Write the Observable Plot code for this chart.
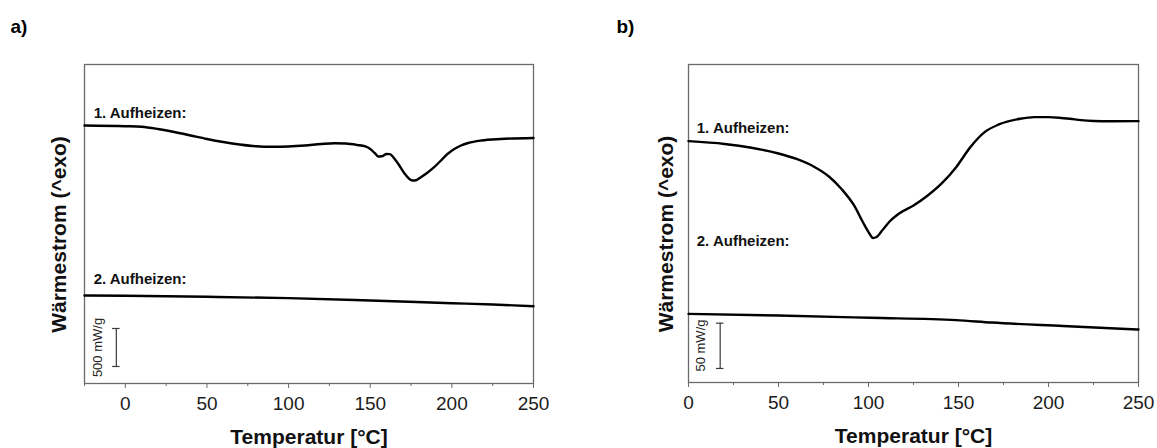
<!DOCTYPE html>
<html>
<head>
<meta charset="utf-8">
<script src="https://cdn.jsdelivr.net/npm/d3@7"></script>
<script src="https://cdn.jsdelivr.net/npm/@observablehq/plot@0.6"></script>
<style>
  body { margin: 0; background: #fff; }
  #fig { position: relative; width: 1157px; height: 448px; overflow: hidden; background: #fff; }
  #fig svg { position: absolute; top: 0; }
</style>
</head>
<body>
<div id="fig"></div>
<script>
// ---- Panel a: DSC heating curves (heat flow in mW/g, curves offset vertically) ----
const tempA1 = [-25, 0, 10, 20, 30, 40, 50, 60, 70, 80, 90, 100, 110, 120, 128, 135, 142, 147, 150, 153, 155, 157, 160, 162, 164.5, 167, 171, 174, 176, 178, 181, 185, 189, 193, 197.5, 201.5, 205.6, 210, 218, 230, 250];
const flowA1 = [3395, 3386, 3378, 3349, 3310, 3264, 3218, 3178, 3145, 3122, 3115, 3119, 3132, 3152, 3162, 3158, 3139, 3119, 3086, 3027, 2987, 2990, 3020, 3019, 2968, 2895, 2764, 2691, 2671, 2675, 2715, 2774, 2843, 2928, 3023, 3086, 3132, 3165, 3198, 3218, 3231];
const tempA2 = [-25, 0, 50, 100, 150, 200, 225, 250];
const flowA2 = [1158, 1154, 1141, 1123, 1092, 1057, 1040, 1017];

// ---- Panel b ----
const tempB1 = [0, 20, 35, 50, 60, 70, 78, 85, 92, 97, 100.5, 102.5, 104.5, 108, 112, 117, 125, 132.9, 140.8, 148.7, 156.6, 164.5, 172.4, 184.2, 192.2, 200, 206, 212, 218, 225, 235, 250];
const flowB1 = [266.4, 263.3, 259.1, 252.8, 246.7, 237.9, 227.4, 213.6, 195.4, 176.6, 164.5, 159.5, 160.6, 168.9, 178.3, 186.6, 195.4, 206.4, 220.0, 237.7, 259.8, 276.3, 284.8, 291.1, 292.9, 292.9, 292.3, 291.1, 289.6, 288.7, 288.4, 288.5];
const tempB2 = [0, 50, 101, 148.7, 168.5, 208, 250];
const flowB2 = [75.8, 73.9, 71.4, 68.9, 66.2, 62.4, 58.5];

// ---- Shared text ----
const seriesLabels = ["1. Aufheizen:", "2. Aufheizen:"];
const xTitle = "Temperatur [°C]";
const yTitle = "Wärmestrom (^exo)";
const majorTicksA = [0, 50, 100, 150, 200, 250];
const minorTicksA = [-25, 25, 75, 125, 175, 225];
const majorTicksB = [0, 50, 100, 150, 200, 250];
const minorTicksB = [25, 75, 125, 175, 225];
const scaleLabelA = "500 mW/g";
const scaleLabelB = "50 mW/g";

const FONT = "'Liberation Sans', Arial, Helvetica, sans-serif";
const zip = (xs, ys) => xs.map((x, i) => ({x, y: ys[i]}));

function panel(cfg) {
  const barHalf = cfg.capHalf;
  return Plot.plot({
    width: cfg.width,
    height: 448,
    marginLeft: cfg.marginLeft,
    marginRight: cfg.marginRight,
    marginTop: 64,
    marginBottom: cfg.marginBottom,
    style: {fontFamily: FONT, fontSize: "19px", background: "transparent", color: "#1c1c1c", overflow: "visible"},
    x: {domain: cfg.xDomain, axis: null},
    y: {domain: [0, cfg.yMax], axis: null},
    marks: [
      Plot.frame({stroke: "#6a6a6a", strokeWidth: 1.3}),
      Plot.axisX(cfg.minor, {anchor: "bottom", label: null, tickSize: 3, tickFormat: () => "", stroke: "#6a6a6a"}),
      Plot.axisX(cfg.major, {anchor: "bottom", label: null, tickSize: 5, tickPadding: 8, stroke: "#6a6a6a", fill: "#1c1c1c", fontSize: 19, tickFormat: d => String(d)}),
      Plot.line(zip(cfg.t1, cfg.f1), {x: "x", y: "y", stroke: "#000", strokeWidth: 2.4, curve: "monotone-x"}),
      Plot.line(zip(cfg.t2, cfg.f2), {x: "x", y: "y", stroke: "#000", strokeWidth: 2.4, curve: "monotone-x"}),
      Plot.text([seriesLabels[0]], {x: cfg.labelX, y: cfg.label1Y, text: d => d, textAnchor: "start", fontWeight: "bold", fontSize: 15, fill: "#111"}),
      Plot.text([seriesLabels[1]], {x: cfg.labelX, y: cfg.label2Y, text: d => d, textAnchor: "start", fontWeight: "bold", fontSize: 15, fill: "#111"}),
      // scale bar
      Plot.ruleX([cfg.bar], {x: d => d.x, y1: d => d.from, y2: d => d.to, stroke: "#3a3a3a", strokeWidth: 1.2}),
      Plot.ruleY([cfg.bar.from, cfg.bar.to], {y: d => d, x1: cfg.bar.x - barHalf, x2: cfg.bar.x + barHalf, stroke: "#3a3a3a", strokeWidth: 1.2}),
      Plot.text([cfg.bar.label], {x: cfg.bar.labelX, y: cfg.bar.labelY, text: d => d, rotate: -90, textAnchor: "middle", fontSize: 13, fill: "#222"}),
      // titles
      Plot.text([xTitle], {frameAnchor: "bottom", dy: 54, text: d => d, textAnchor: "middle", lineAnchor: "middle", fontWeight: "bold", fontSize: 21, fill: "#111"}),
      Plot.text([yTitle], {frameAnchor: "left", rotate: -90, dx: cfg.yTitleDx, dy: 10.5, text: d => d, textAnchor: "middle", lineAnchor: "middle", fontWeight: "bold", fontSize: 21, fill: "#111"}),
      Plot.text([cfg.tag], {frameAnchor: "top-left", dx: cfg.tagDx, dy: -38, text: d => d, textAnchor: "start", lineAnchor: "middle", fontWeight: "bold", fontSize: 19, fill: "#000"})
    ]
  });
}

const fig = document.getElementById("fig");

const a = panel({
  width: 600, marginLeft: 84, marginRight: 67, marginBottom: 65,
  xDomain: [-25, 250], yMax: 4198,
  major: majorTicksA, minor: minorTicksA,
  t1: tempA1, f1: flowA1, t2: tempA2, f2: flowA2,
  labelX: -19.4, label1Y: 3553, label2Y: 1378,
  bar: {x: -5.5, from: 224, to: 724, label: scaleLabelA, labelX: -17, labelY: 474},
  capHalf: 2.3,
  yTitleDx: -25, tag: "a)", tagDx: -74
});
a.style.left = "0px";
fig.appendChild(a);

const b = panel({
  width: 557, marginLeft: 88, marginRight: 19, marginBottom: 66,
  xDomain: [0, 250], yMax: 351,
  major: majorTicksB, minor: minorTicksB,
  t1: tempB1, f1: flowB1, t2: tempB2, f2: flowB2,
  labelX: 4.6, label1Y: 281.2, label2Y: 156.0,
  bar: {x: 17.6, from: 15.5, to: 65.5, label: scaleLabelB, labelX: 6.7, labelY: 40.8},
  capHalf: 2.1,
  yTitleDx: -22, tag: "b)", tagDx: -72
});
b.style.left = "600px";
fig.appendChild(b);
</script>
</body>
</html>
